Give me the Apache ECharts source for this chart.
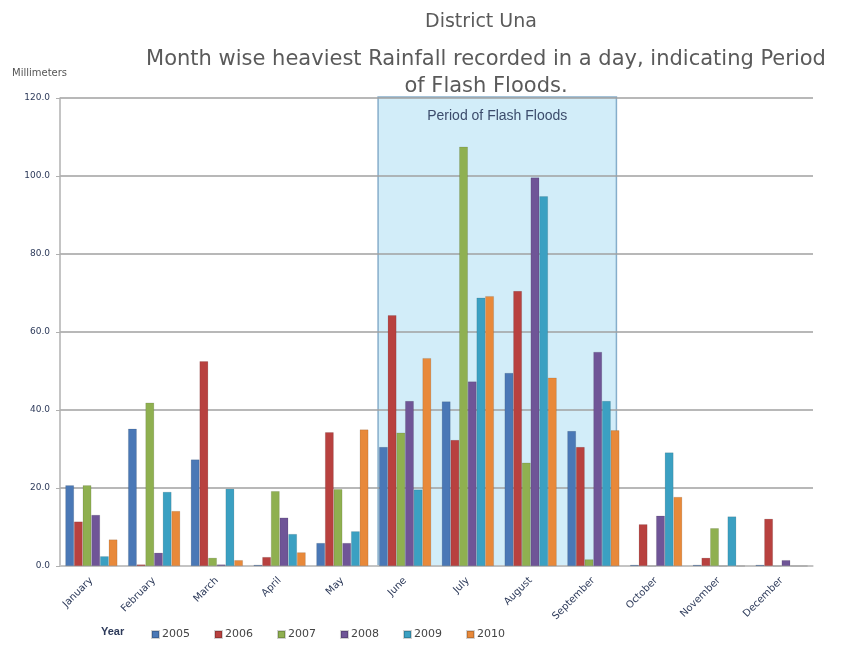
<!DOCTYPE html>
<html>
<head>
<meta charset="utf-8">
<title>District Una - Heaviest Rainfall in a Day</title>
<script src="https://cdn.jsdelivr.net/npm/echarts@6/dist/echarts.min.js"></script>
<style>
  html, body { margin: 0; padding: 0; background: #ffffff; }
  #chart { width: 845px; height: 647px; }
</style>
</head>
<body>
<div id="chart"></div>
<script>
// Months along the x axis
const months = ['January', 'February', 'March', 'April', 'May', 'June',
  'July', 'August', 'September', 'October', 'November', 'December'];

// Heaviest rainfall recorded in a single day (mm), per year
const years = ['2005', '2006', '2007', '2008', '2009', '2010'];
const rain2005 = [20.7, 35.2, 27.3, 0.3, 5.9, 30.5, 42.2, 49.5, 34.6, 0.3, 0.3, 0.3];
const rain2006 = [11.4, 0.4, 52.5, 2.3, 34.3, 64.3, 32.3, 70.5, 30.5, 10.7, 2.1, 12.1];
const rain2007 = [20.7, 41.9, 2.1, 19.2, 19.7, 34.2, 107.5, 26.5, 1.7, 0, 9.7, 0];
const rain2008 = [13.1, 3.4, 0.4, 12.4, 5.9, 42.3, 47.3, 99.6, 54.9, 12.9, 0, 1.5];
const rain2009 = [2.5, 19.0, 19.8, 8.2, 8.9, 19.6, 68.8, 94.8, 42.3, 29.1, 12.7, 0];
const rain2010 = [6.8, 14.1, 1.5, 3.5, 35.0, 53.3, 69.2, 48.3, 34.8, 17.7, 0, 0];
const seriesValues = [rain2005, rain2006, rain2007, rain2008, rain2009, rain2010];

// Flash flood period (first and last month)
const floodStart = 'June';
const floodEnd = 'September';

// y axis range
const yMin = 0, yMax = 120, yStep = 20;

const colors = ['#4a78b6', '#b8413f', '#8fb050', '#6f5597', '#3ba0c2', '#e8893a'];
const barGapRatio = 0.17;
const wideFont = 'DejaVu Sans, Liberation Sans, sans-serif';

const chart = echarts.init(document.getElementById('chart'));

const option = {
  animation: false,
  color: colors,
  textStyle: { fontFamily: 'Liberation Sans, DejaVu Sans, sans-serif' },
  title: [
    {
      text: 'District Una',
      left: 476, top: 8, textAlign: 'center',
      textStyle: { fontSize: 19, fontWeight: 'normal', color: '#5a5a5a', fontFamily: wideFont }
    },
    {
      text: 'Month wise heaviest Rainfall recorded in a day, indicating Period\nof Flash Floods.',
      left: 481, top: 41, textAlign: 'center',
      textStyle: { fontSize: 21, fontWeight: 'normal', color: '#5a5a5a', lineHeight: 27, fontFamily: wideFont }
    }
  ],
  legend: {
    data: years,
    left: 146, top: 624,
    itemWidth: 7, itemHeight: 7, itemGap: 24,
    icon: 'rect',
    textStyle: { fontSize: 11, color: '#444', fontFamily: wideFont, padding: [0, 0, 0, -2] }
  },
  grid: { left: 60, right: 32, top: 98, bottom: 81, containLabel: false },
  xAxis: {
    type: 'category',
    data: months,
    axisLine: { show: true, lineStyle: { color: '#c8c8c8', width: 1.5 } },
    axisTick: { show: false },
    axisLabel: {
      rotate: 45, fontSize: 10, color: '#2d3a5a', margin: 13, interval: 0, fontFamily: wideFont
    }
  },
  yAxis: {
    type: 'value',
    min: yMin, max: yMax, interval: yStep,
    axisLine: { show: true, lineStyle: { color: '#b0b0b0', width: 1.5 } },
    axisTick: { show: true, length: 4, lineStyle: { color: '#b0b0b0' } },
    axisLabel: {
      fontSize: 9, color: '#2d3a5a', margin: 10, fontFamily: wideFont,
      formatter: v => v.toFixed(1)
    },
    splitLine: { show: true, lineStyle: { color: '#a0a0a0', width: 1.5 } }
  },
  series: years.map((y, i) => ({
    name: y,
    type: 'bar',
    data: seriesValues[i],
    barGap: '0%',
    barCategoryGap: (barGapRatio * 100) + '%',
    itemStyle: { color: colors[i], borderColor: 'rgba(0,0,0,0.18)', borderWidth: 0.6 },
    z: 3
  }))
};

chart.setOption(option);

// Shaded band over the flash-flood months, spanning the bar groups
function drawFloodBand() {
  const i0 = months.indexOf(floodStart);
  const i1 = months.indexOf(floodEnd);
  const c0 = chart.convertToPixel({ xAxisIndex: 0 }, i0);
  const c1 = chart.convertToPixel({ xAxisIndex: 0 }, i1);
  const band = chart.convertToPixel({ xAxisIndex: 0 }, 1) - chart.convertToPixel({ xAxisIndex: 0 }, 0);
  const half = band * (1 - barGapRatio) / 2;
  const top = chart.convertToPixel({ yAxisIndex: 0 }, yMax) - 1;
  const bottom = chart.convertToPixel({ yAxisIndex: 0 }, yMin);
  const x0 = c0 - half - 1, x1 = c1 + half - 3;
  chart.setOption({
    graphic: [
      {
        type: 'rect', z: -1,
        shape: { x: x0, y: top, width: x1 - x0, height: bottom - top },
        style: { fill: '#d2edf9', stroke: '#86aecb', lineWidth: 1.5 }
      },
      {
        type: 'text', z: 10,
        x: (x0 + x1) / 2, y: top + 19,
        style: {
          text: 'Period of Flash Floods', fontSize: 14, fill: '#3c4c6c',
          align: 'center', verticalAlign: 'middle',
          fontFamily: 'Liberation Sans, DejaVu Sans, sans-serif'
        }
      },
      {
        type: 'text',
        x: 12, y: 73,
        style: {
          text: 'Millimeters', fontSize: 10, fill: '#555',
          verticalAlign: 'middle',
          fontFamily: wideFont
        }
      },
      {
        type: 'text',
        x: 101, y: 632,
        style: {
          text: 'Year', fontSize: 11, fontWeight: 'bold', fill: '#2d3a5a',
          verticalAlign: 'middle',
          fontFamily: 'Liberation Sans, DejaVu Sans, sans-serif'
        }
      }
    ]
  });
}
drawFloodBand();
</script>
</body>
</html>
